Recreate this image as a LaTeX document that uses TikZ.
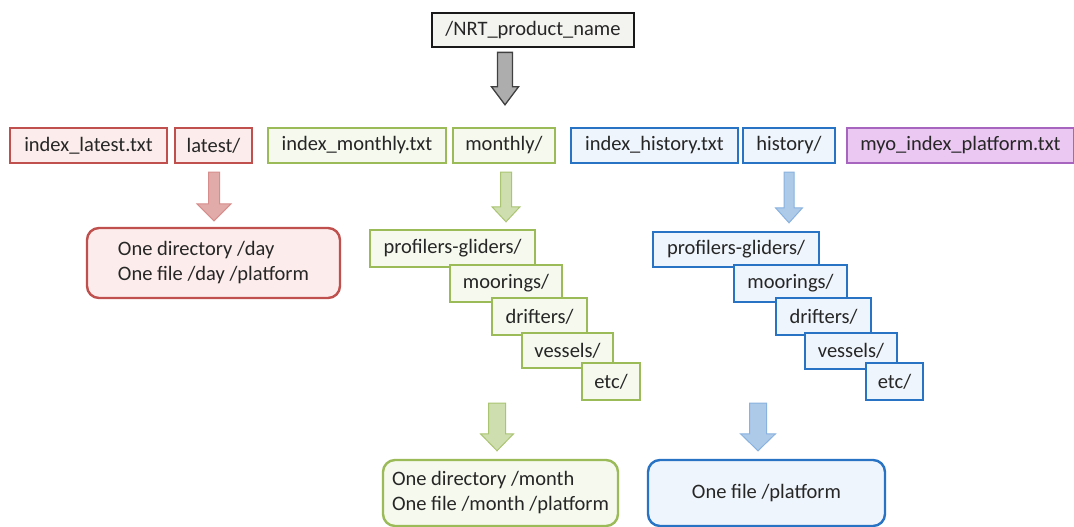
\documentclass[tikz,border=0pt]{standalone}
\usepackage{fontspec}
\setmainfont{Carlito}
\usetikzlibrary{calc}
\definecolor{txt}{HTML}{262626}
\definecolor{redB}{HTML}{C0504D}
\definecolor{redF}{HTML}{FCEDEC}
\definecolor{grnB}{HTML}{9BBB59}
\definecolor{grnF}{HTML}{F5F9EE}
\definecolor{bluB}{HTML}{2873C4}
\definecolor{bluF}{HTML}{EFF5FC}
\definecolor{purB}{HTML}{A865C0}
\definecolor{purF}{HTML}{EAC8F1}
\definecolor{topF}{HTML}{F3F3EF}
\newcommand{\blockarrow}[6]{%
  \draw[#1] ($(#2)+(-#4,0)$) -- ($(#3)+(-#4,-#6)$) -- ($(#3)+(-#5,-#6)$) -- (#3)
    -- ($(#3)+(#5,-#6)$) -- ($(#3)+(#4,-#6)$) -- ($(#2)+(#4,0)$) -- cycle;}
\begin{document}
\begin{tikzpicture}[x=1pt,y=-1pt,
  every node/.style={font=\fontsize{20.5}{25}\selectfont, text=txt},
  box/.style={draw, line width=2.4pt, inner sep=0pt, minimum height=35pt},
  redbox/.style={box, draw=redB, fill=redF},
  grnbox/.style={box, draw=grnB, fill=grnF},
  blubox/.style={box, draw=bluB, fill=bluF},
  purbox/.style={box, draw=purB, fill=purF},
  topbox/.style={box, draw=black!90, fill=topF, line width=2.8pt},
  roundbox/.style={rounded corners=12pt, align=left},
  grayarrow/.style={left color=black!32, middle color=black!8, right color=black!32, draw=black!75, line width=1.3pt},
  redarrow/.style={left color=redB!48, middle color=redB!18, right color=redB!48, draw=redB!65, line width=1pt},
  grnarrow/.style={left color=grnB!48, middle color=grnB!15, right color=grnB!48, draw=grnB!85, line width=1pt},
  bluarrow/.style={left color=bluB!38, middle color=bluB!12, right color=bluB!38, draw=bluB!55, line width=1pt}
]
\fill[white] (0,0) rectangle (1074,527);
\useasboundingbox (0,0) rectangle (1074,527);

% top
\node[topbox, minimum width=202pt, minimum height=34pt] (nrt) at (533,30) {/NRT\_product\_name};

% row 2
\node[redbox, minimum width=157pt] (ilatest) at (88.5,145.5) {index\_latest.txt};
\node[redbox, minimum width=77pt] (latest) at (213.5,145.5) {latest/};
\node[grnbox, minimum width=178pt] (imonthly) at (357,145.5) {index\_monthly.txt};
\node[grnbox, minimum width=102pt] (monthly) at (504,145.5) {monthly/};
\node[blubox, minimum width=167pt] (ihistory) at (654.5,145.5) {index\_history.txt};
\node[blubox, minimum width=92pt] (history) at (789,145.5) {history/};
\node[purbox, minimum width=227pt] (myo) at (960.5,145.5) {myo\_index\_platform.txt};

% latest branch
\node[redbox, roundbox, minimum width=253pt, minimum height=70pt] (rday) at (213.5,263)
  {One directory /day\\One file /day /platform};

% monthly cascade
\node[grnbox, minimum width=165pt, minimum height=37pt] (gpg) at (452.5,248.5) {profilers-gliders/};
\node[grnbox, minimum width=112pt, minimum height=37pt] (gmo) at (506,283.5) {moorings/};
\node[grnbox, minimum width=95pt, minimum height=37pt] (gdr) at (539.5,316.5) {drifters/};
\node[grnbox, minimum width=91pt] (gve) at (567.5,350.5) {vessels/};
\node[grnbox, minimum width=58pt, minimum height=37pt] (get) at (611,381.5) {etc/};
\node[grnbox, roundbox, minimum width=235pt, minimum height=66pt] (gmonth) at (500.5,493)
  {One directory /month\\One file /month /platform};

% history cascade
\node[blubox, minimum width=166pt] (bpg) at (736,249.5) {profilers-gliders/};
\node[blubox, minimum width=113pt, minimum height=37pt] (bmo) at (790.5,283.5) {moorings/};
\node[blubox, minimum width=95pt, minimum height=37pt] (bdr) at (823.5,316.5) {drifters/};
\node[blubox, minimum width=92pt, minimum height=36pt] (bve) at (851,351) {vessels/};
\node[blubox, minimum width=57pt, minimum height=37pt] (bet) at (894.5,381.5) {etc/};
\node[blubox, roundbox, minimum width=237pt, minimum height=66pt] (bplat) at (766.5,493)
  {One file /platform};

% arrow axes
\coordinate (x0) at (505,0);
\coordinate (x1) at (214,0);
\coordinate (x2) at (506,0);
\coordinate (x3) at (789,0);
\coordinate (x4) at (497,0);
\coordinate (x5) at (758,0);

\path (x0 |- nrt.south) ++(0,4) coordinate (a0t);
\path (x0 |- monthly.north) ++(0,-22) coordinate (a0b);
\path (x1 |- latest.south) ++(0,8) coordinate (a1t);
\path (x1 |- rday.north) ++(0,-6) coordinate (a1b);
\path (x2 |- monthly.south) ++(0,8) coordinate (a2t);
\path (x2 |- gpg.north) ++(0,-7) coordinate (a2b);
\path (x3 |- history.south) ++(0,8) coordinate (a3t);
\path (x3 |- bpg.north) ++(0,-8) coordinate (a3b);
\path (x4 |- get.south) ++(0,2) coordinate (a4t);
\path (x4 |- gmonth.north) ++(0,-8) coordinate (a4b);
\path (x5 |- bet.south) ++(0,2) coordinate (a5t);
\path (x5 |- bplat.north) ++(0,-8) coordinate (a5b);

\blockarrow{grayarrow}{a0t}{a0b}{7.5}{13.5}{18}
\blockarrow{redarrow}{a1t}{a1b}{5.5}{17}{17}
\blockarrow{grnarrow}{a2t}{a2b}{5.5}{14}{15}
\blockarrow{bluarrow}{a3t}{a3b}{5}{13.5}{15}
\blockarrow{grnarrow}{a4t}{a4b}{8.5}{16.5}{17}
\blockarrow{bluarrow}{a5t}{a5b}{8.5}{17.5}{17}
\end{tikzpicture}
\end{document}
